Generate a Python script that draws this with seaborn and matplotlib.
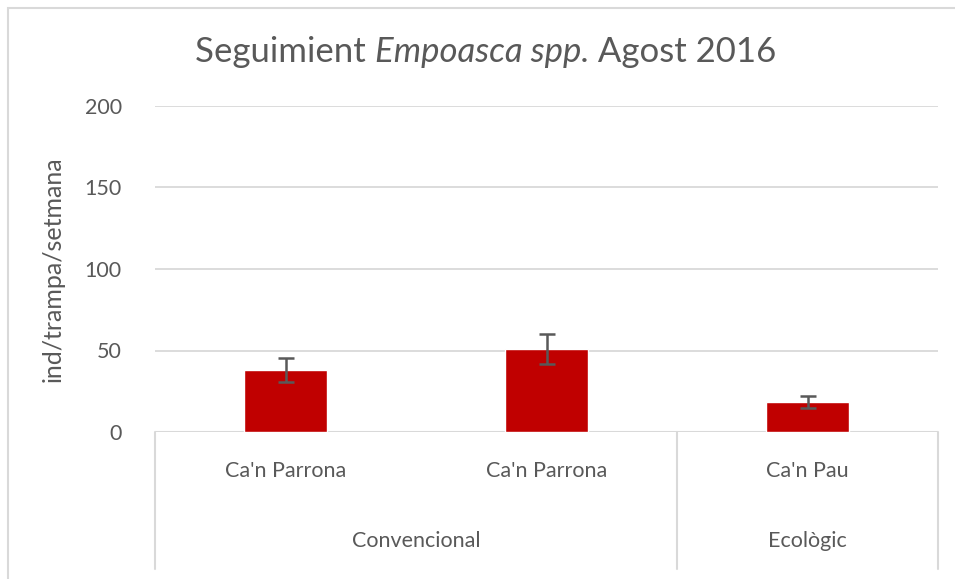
"""
Seguiment Empoasca spp. - agost 2016.

Barres amb error per finca i tipus de maneig.
"""

import pandas as pd
import matplotlib.pyplot as plt
import seaborn as sns
from matplotlib.lines import Line2D
from matplotlib.patches import Rectangle

# dades
sites = ["Ca'n Parrona", "Ca'n Parrona", "Ca'n Pau"]
groups = ["Convencional", "Ecològic"]
group_sizes = [2, 1]
means = [38, 51, 18.5]
errors = [7.5, 9, 3.5]
yticks = [0, 50, 100, 150, 200]

GREY = "#595959"
GRID = "#d9d9d9"
RED = "#c00000"


def main() -> None:
    sns.set_theme(style="white")
    plt.rcParams["font.family"] = ["Lato", "DejaVu Sans"]

    df = pd.DataFrame({"pos": list(range(len(sites))), "mean": means, "err": errors})

    fig = plt.figure(figsize=(9.55, 5.79), dpi=100)
    ax = fig.add_axes([155 / 955, 1 - 432 / 579, (938 - 155) / 955, (432 - 106) / 579])

    sns.barplot(data=df, x="pos", y="mean", color=RED, width=0.32,
                errorbar=None, saturation=1, ax=ax, zorder=3)
    ax.errorbar(df["pos"], df["mean"], yerr=df["err"], fmt="none",
                ecolor=GREY, elinewidth=1.8, capsize=6, capthick=1.8, zorder=4)

    ax.set_xlim(-0.5, len(sites) - 0.5)
    ax.set_ylim(0, 200)
    ax.set_yticks(yticks)
    ax.set_yticklabels([str(t) for t in yticks], color=GREY, fontsize=15.5)
    ax.tick_params(axis="y", length=0, pad=24)
    ax.yaxis.grid(True, color=GRID, linewidth=1.3, zorder=0)
    for s in ax.spines.values():
        s.set_visible(False)
    ax.axhline(0, color=GRID, linewidth=1.5, zorder=2)

    ax.set_xticks(df["pos"])
    ax.set_xticklabels(sites, color=GREY, fontsize=15.5)
    ax.tick_params(axis="x", length=0, pad=21)
    ax.set_xlabel("")
    ax.set_ylabel("ind/trampa/setmana", color=GREY, fontsize=18, labelpad=14)

    # etiquetes de grup i separadors
    trans = ax.get_xaxis_transform()
    y_sep = -(569 - 432) / (432 - 106)
    y_grp = -(541 - 432) / (432 - 106)
    start = -0.5
    edges = [start]
    for g, n in zip(groups, group_sizes):
        ax.text(start + n / 2, y_grp, g, transform=trans, ha="center", va="center",
                color=GREY, fontsize=15.5)
        start += n
        edges.append(start)
    for e in edges:
        ax.add_line(Line2D([e, e], [0, y_sep], transform=trans, color=GRID,
                           linewidth=1.5, clip_on=False))

    # marc exterior
    fig.patches.append(Rectangle((8 / 955, -0.05), 1.2, 1 - 8 / 579 + 0.05,
                                 transform=fig.transFigure, fill=False,
                                 edgecolor=GRID, linewidth=1.5))

    # títol amb part en cursiva
    parts = [("Seguimient ", "normal"), ("Empoasca spp.", "italic"), (" Agost 2016", "normal")]
    texts = []
    for txt, style in parts:
        texts.append(fig.text(0, 1 - 52 / 579, txt, fontsize=25, color=GREY,
                              style=style, va="center", ha="left"))
    fig.canvas.draw()
    renderer = fig.canvas.get_renderer()
    widths = [t.get_window_extent(renderer).width for t in texts]
    x = (486 - sum(widths) / 2) / 955
    for t, w in zip(texts, widths):
        t.set_x(x)
        x += w / 955

    fig.savefig("out.png", dpi=100)


if __name__ == "__main__":
    main()
